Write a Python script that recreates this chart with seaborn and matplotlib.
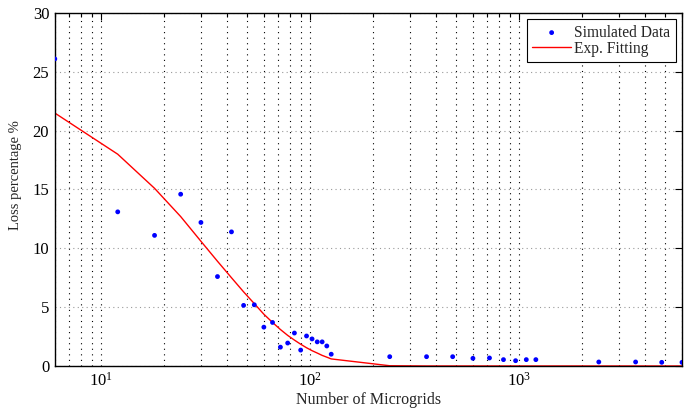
import matplotlib
matplotlib.use("Agg")
import matplotlib.pyplot as plt
import seaborn as sns
import pandas as pd
from matplotlib.ticker import LogLocator, NullFormatter

microgrids = [6, 12, 18, 24, 30, 36, 42, 48, 54, 60, 66, 72, 78, 84, 90, 96,
              102, 108, 114, 120, 126, 240, 360, 480, 600, 720, 840, 960,
              1080, 1200, 2400, 3600, 4800, 6000]
simulated = [26.1, 13.1, 11.1, 14.6, 12.2, 7.6, 11.4, 5.15, 5.2, 3.3, 3.7,
             1.6, 1.95, 2.8, 1.35, 2.55, 2.3, 2.05, 2.05, 1.7, 1.0, 0.79,
             0.79, 0.79, 0.65, 0.68, 0.54, 0.45, 0.54, 0.54, 0.34, 0.34,
             0.31, 0.31]
fitted = [21.5, 18.0, 15.1, 12.7, 10.6, 8.9, 7.5, 6.3, 5.3, 4.4, 3.7, 3.1,
          2.6, 2.2, 1.85, 1.55, 1.3, 1.1, 0.9, 0.75, 0.6, 0.02, 0.0, 0.0,
          0.0, 0.0, 0.0, 0.0, 0.0, 0.0, 0.0, 0.0, 0.0, 0.0]
y_ticks = [0, 5, 10, 15, 20, 25, 30]

df = pd.DataFrame({"n": microgrids, "sim": simulated, "fit": fitted})

sns.set_theme(style="white")
plt.rcParams["font.family"] = ["Liberation Serif", "DejaVu Serif"]
plt.rcParams["mathtext.fontset"] = "stix"

fig = plt.figure(figsize=(6.85, 4.12), dpi=100)
ax = fig.add_axes([0.080, 0.1117, 0.9156, 0.8567])

sns.scatterplot(data=df, x="n", y="sim", ax=ax, color="#0000ff", s=12,
                marker="o", edgecolor="none", label="Simulated Data", zorder=3)
sns.lineplot(data=df, x="n", y="fit", ax=ax, color="#ff0000", linewidth=1.0,
             label="Exp. Fitting", zorder=2)

ax.set_xscale("log")
ax.set_xlim(6, 6000)
ax.set_ylim(0, 30)
ax.set_yticks(y_ticks)
ax.xaxis.set_major_locator(LogLocator(base=10, numticks=10))
ax.xaxis.set_minor_locator(LogLocator(base=10, subs=range(2, 10), numticks=100))
ax.xaxis.set_minor_formatter(NullFormatter())

ax.grid(True, which="major", axis="x", linestyle=(0, (1, 4)), color="black", linewidth=0.8)
ax.grid(True, which="minor", axis="x", linestyle=(0, (1, 4)), color="black", linewidth=0.8)
ax.grid(True, which="major", axis="y", linestyle=(0, (1, 3)), color="#999999", linewidth=0.8)

ax.tick_params(which="both", direction="in", top=True, right=True,
               labelsize=12, colors="black")
ax.tick_params(which="major", length=5, width=0.8, pad=4)
ax.tick_params(which="minor", length=3, width=0.8)
for s in ax.spines.values():
    s.set_color("black")
    s.set_linewidth(1.0)

ax.set_xlabel("Number of Microgrids", fontsize=11.5, labelpad=2)
ax.set_ylabel("Loss percentage %", fontsize=10.5)
ax.yaxis.set_label_coords(-0.053, 0.54)

leg = ax.legend(loc="upper right", fontsize=11.2, frameon=True, fancybox=False,
                edgecolor="black", framealpha=1, borderpad=0.35,
                handlelength=2.5, handletextpad=0.2, borderaxespad=0.4,
                labelspacing=0.0)
leg.get_frame().set_linewidth(0.8)

fig.savefig("out.png", dpi=100)
